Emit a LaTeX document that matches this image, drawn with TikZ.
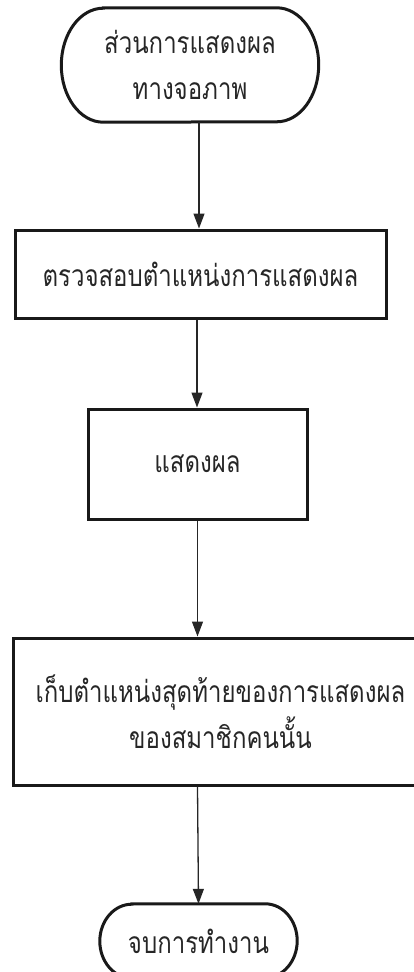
\documentclass[tikz,border=0pt]{standalone}
\usepackage{fontspec}
\newfontfamily\thaifont[Script=Thai,FakeStretch=0.8]{Loma}
\usetikzlibrary{arrows.meta}
\begin{document}
\begin{tikzpicture}[
  txt/.style={font=\thaifont\fontsize{30}{46}\selectfont, text=black!85, align=center, inner sep=0pt},
  procbox/.style={txt, draw=black!90, line width=3pt},
  term/.style={txt},
  flow/.style={draw=black!85, line width=1.3pt, -{Triangle[length=15pt,width=11pt]}},
  frame/.style={draw=black!90, line width=3pt}
]
\clip (0,0) rectangle (414pt,-972pt);
\useasboundingbox (0,0) rectangle (414pt,-972pt);

% start terminator
\node[term, minimum width=257pt, minimum height=114pt] (start) at (190pt,-65pt) {ส่วนการแสดงผล\\ทางจอภาพ};
\draw[frame] ([xshift=42pt]start.north west) -- ([xshift=-42pt]start.north east)
  arc[start angle=90, end angle=-90, x radius=42pt, y radius=57pt]
  -- ([xshift=42pt]start.south west)
  arc[start angle=270, end angle=90, x radius=42pt, y radius=57pt] -- cycle;

% process boxes
\node[procbox, minimum width=371pt, minimum height=88pt] (box1) at (200.5pt,-274pt) {ตรวจสอบตำแหน่งการแสดงผล};
\node[procbox, minimum width=219pt, minimum height=110pt] (box2) at (197.5pt,-464pt) {แสดงผล};
\node[procbox, minimum width=415pt, minimum height=147pt] (box3) at (220.5pt,-711.5pt) {เก็บตำแหน่งสุดท้ายของการแสดงผล\\ของสมาชิกคนนั้น};

% end terminator
\node[term, minimum width=197pt, minimum height=74pt] (end) at (198.5pt,-941pt) {จบการทำงาน};
\draw[frame] ([xshift=32pt]end.north west) -- ([xshift=-32pt]end.north east)
  arc[start angle=90, end angle=-90, x radius=32pt, y radius=37pt]
  -- ([xshift=32pt]end.south west)
  arc[start angle=270, end angle=90, x radius=32pt, y radius=37pt] -- cycle;

% connectors
\draw[flow] ([xshift=9pt]start.south) -- ([xshift=9pt]start.south |- box1.north);
\draw[flow] ([xshift=-3.5pt]box1.south) -- ([xshift=-3.5pt]box1.south |- box2.north);
\draw[flow] (box2.south) -- (box2.south |- box3.north);
\draw[flow] (box2.south |- box3.south) -- (end.north);
\end{tikzpicture}
\end{document}
